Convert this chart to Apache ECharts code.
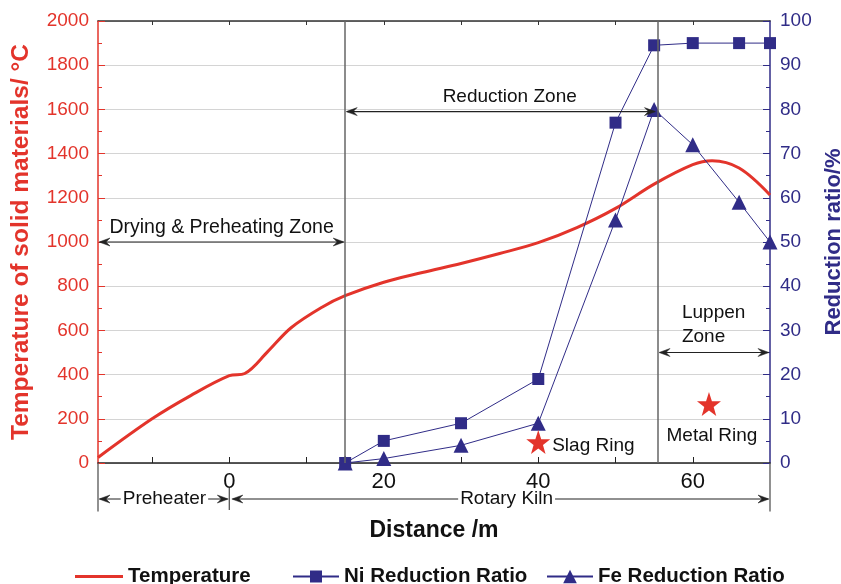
<!DOCTYPE html>
<html><head><meta charset="utf-8">
<script src="https://cdn.jsdelivr.net/npm/echarts@6/dist/echarts.min.js"></script>
<style>html,body{margin:0;padding:0;background:#fff}#c{width:841px;height:584px}</style>
</head><body><div id="c"></div>
<script>
// ---- data ----
const tempX = [-17, -10, -5, 0, 2, 5, 8, 12, 15, 20, 25, 30, 35, 40, 45, 50, 55, 60, 62.5, 66, 70];
const tempY = [25, 200, 305, 395, 405, 505, 612, 705, 757, 818, 862, 903, 948, 997, 1065, 1152, 1262, 1350, 1368, 1335, 1213];
const niX = [15, 20, 30, 40, 50, 55, 60, 66, 70];
const niY = [0, 5, 9, 19, 77, 94.5, 95, 95, 95];
const feX = [15, 20, 30, 40, 50, 55, 60, 66, 70];
const feY = [0, 1, 4, 9, 55, 80, 72, 59, 50];
const ringX = [40, 62.1];
const ringY = [95, 267];
const xLabelValues = [0, 20, 40, 60];
const xTickValues = [-10, 0, 10, 20, 30, 40, 50, 60];
const zoneBounds = [15, 55.5];

const RED = '#e3342b', NAVY = '#302c87', FONT = 'Liberation Sans, Arial, sans-serif';
const pairs = (xs, ys) => xs.map((x, i) => [x, ys[i]]);
const STAR = 'path://M50,0 L61.8,35.1 L98.5,35.3 L69,57.1 L79.4,91.9 L50,71 L20.6,91.9 L31,57.1 L1.5,35.3 L38.2,35.1 Z';
const legendText = { fontFamily: FONT, fontSize: 20.5, fontWeight: 'bold', color: '#111' };

const chart = echarts.init(document.getElementById('c'));
const option = {
  animation: false,
  textStyle: { fontFamily: FONT },
  grid: { left: 98, right: 71, top: 21, bottom: 121, containLabel: false, outerBoundsMode: 'none' },
  legend: [
    { left: 70, top: 561, icon: 'rect', itemWidth: 48, itemHeight: 3, itemGap: 6, data: ['Temperature'], textStyle: legendText },
    { left: 287, top: 561, itemWidth: 46, itemHeight: 15, data: ['Ni Reduction Ratio'], textStyle: legendText },
    { left: 541, top: 561, itemWidth: 46, itemHeight: 17, data: ['Fe Reduction Ratio'], textStyle: legendText }
  ],
  xAxis: [
    { type: 'value', min: -17, max: 70, position: 'bottom',
      name: 'Distance /m', nameLocation: 'middle', nameGap: 56,
      nameTextStyle: { fontFamily: FONT, fontSize: 23, fontWeight: 'bold', color: '#111' },
      axisLine: { onZero: false, lineStyle: { color: '#222', width: 1.5 } },
      axisTick: { inside: true, length: 6, customValues: xTickValues, lineStyle: { color: '#222' } },
      axisLabel: { customValues: xLabelValues, fontSize: 22, color: '#111', margin: 8, fontFamily: FONT },
      splitLine: { show: false } },
    { type: 'value', min: -17, max: 70, position: 'top',
      axisLine: { show: true, onZero: false, lineStyle: { color: '#333', width: 1.5 } },
      axisTick: { inside: true, length: 4, customValues: xTickValues, lineStyle: { color: '#333' } },
      axisLabel: { show: false }, splitLine: { show: false } }
  ],
  yAxis: [
    { type: 'value', min: 0, max: 2000, interval: 200, position: 'left',
      name: 'Temperature of solid materials/ °C', nameLocation: 'middle', nameGap: 64,
      nameTextStyle: { fontFamily: FONT, fontSize: 24.5, fontWeight: 'bold', color: RED },
      axisLine: { show: true, onZero: false, lineStyle: { color: RED, width: 1.5 } },
      axisTick: { inside: true, length: 7, lineStyle: { color: RED } },
      minorTick: { show: true, splitNumber: 2, length: 4, lineStyle: { color: RED } },
      axisLabel: { fontSize: 19, color: RED, margin: 9, fontFamily: FONT, formatter: v => String(v) },
      splitLine: { show: true, lineStyle: { color: '#d4d4d4', width: 1 } } },
    { type: 'value', min: 0, max: 100, interval: 10, position: 'right',
      name: 'Reduction ratio/%', nameLocation: 'middle', nameGap: 50,
      nameTextStyle: { fontFamily: FONT, fontSize: 22, fontWeight: 'bold', color: NAVY },
      axisLine: { show: true, onZero: false, lineStyle: { color: NAVY, width: 1.5 } },
      axisTick: { inside: true, length: 7, lineStyle: { color: NAVY } },
      minorTick: { show: true, splitNumber: 2, length: 4, lineStyle: { color: NAVY } },
      axisLabel: { fontSize: 19, color: NAVY, margin: 10, fontFamily: FONT, formatter: v => String(v) },
      splitLine: { show: false } }
  ],
  series: [
    { name: 'Temperature', type: 'line', xAxisIndex: 0, yAxisIndex: 0, data: pairs(tempX, tempY),
      smooth: 0.35, symbol: 'none', lineStyle: { color: RED, width: 3 }, itemStyle: { color: RED }, z: 3,
      markLine: { silent: true, symbol: 'none', label: { show: false },
        lineStyle: { color: '#666', width: 1.5, type: 'solid' },
        data: zoneBounds.map(v => ({ xAxis: v })) } },
    { name: 'Ni Reduction Ratio', type: 'line', xAxisIndex: 0, yAxisIndex: 1, data: pairs(niX, niY),
      symbol: 'rect', symbolSize: 12, lineStyle: { color: NAVY, width: 1 }, itemStyle: { color: NAVY }, z: 4 },
    { name: 'Fe Reduction Ratio', type: 'line', xAxisIndex: 0, yAxisIndex: 1, data: pairs(feX, feY),
      symbol: 'triangle', symbolSize: 15, lineStyle: { color: NAVY, width: 1 }, itemStyle: { color: NAVY }, z: 4 },
    { name: 'Rings', type: 'scatter', xAxisIndex: 0, yAxisIndex: 0, data: pairs(ringX, ringY),
      symbol: STAR, symbolSize: 24, itemStyle: { color: RED, opacity: 1 }, z: 5 }
  ]
};
chart.setOption(option);

// ---- annotations positioned through the axes ----
function px(x, y) { return chart.convertToPixel({ xAxisIndex: 0, yAxisIndex: 0 }, [x, y]); }
const g = [];
const INK = '#222';
function vline(x, y1, y2, color) {
  const a = px(x, y1), b = px(x, y2);
  g.push({ type: 'line', shape: { x1: a[0], y1: a[1], x2: b[0], y2: b[1] }, style: { stroke: color || '#555', lineWidth: 1.3 }, z: 10 });
}
function head(tx, ty, d) {
  g.push({ type: 'polygon', shape: { points: [[tx, ty], [tx - d * 11, ty - 4], [tx - d * 7, ty], [tx - d * 11, ty + 4]] },
    style: { fill: INK, stroke: INK, lineWidth: 0.5 }, z: 11 });
}
function harrow(x1, x2, y) {
  const a = px(x1, y), b = px(x2, y);
  g.push({ type: 'line', shape: { x1: a[0] + 2, y1: a[1], x2: b[0] - 2, y2: b[1] }, style: { stroke: INK, lineWidth: 1.2 }, z: 10 });
  head(a[0] + 1, a[1], -1);
  head(b[0] - 1, b[1], 1);
}
function text(str, x, y, align, bg, size) {
  const p = px(x, y);
  g.push({ type: 'text', x: p[0], y: p[1], z: 12,
    style: { text: str, fontFamily: FONT, fontSize: size || 19, fill: '#111', align: align || 'center', verticalAlign: 'middle',
      backgroundColor: bg ? '#fff' : null, padding: bg ? [0, 2] : 0 } });
}
// zone arrows inside the plot
harrow(-17, 15, 1000);
text('Drying & Preheating Zone', -1, 1065, 'center', false, 19.5);
harrow(15, 55.3, 1590);
text('Reduction Zone', 36.3, 1655);
harrow(55.5, 70, 500);
text('Luppen', 58.6, 680, 'left');
text('Zone', 58.6, 572, 'left');
text('Slag Ring', 41.8, 77, 'left');
text('Metal Ring', 56.6, 122, 'left');
// brackets under the x axis
vline(-17, 0, -220);
vline(0, -113, -213);
vline(70, 0, -220);
harrow(-17, 0, -163);
harrow(0.2, 70, -163);
text('Preheater', -8.4, -163, 'center', true);
text('Rotary Kiln', 35.9, -163, 'center', true);
chart.setOption({ graphic: g });
</script>
</body></html>
